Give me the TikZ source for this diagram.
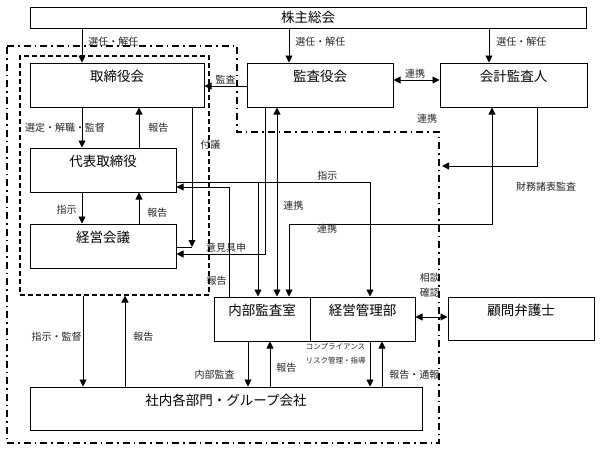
\documentclass[tikz,border=0pt]{standalone}
\usepackage{fontspec}
\setmainfont{Noto Sans CJK JP}
\usetikzlibrary{arrows.meta}

\begin{document}
\begin{tikzpicture}[x=1pt,y=-1pt,
  box/.style={draw, line width=1pt, inner sep=0pt, minimum height=44pt},
  title/.style={label={[font=\fontsize{13.5}{16}\selectfont, anchor=center, yshift=-14pt]north:#1}},
  lbl/.style={font=\fontsize{10}{12}\selectfont, text=black!85, inner sep=1pt},
  tiny/.style={font=\fontsize{7.5}{14}\selectfont, text=black!85, inner sep=1pt, align=center},
  conn/.style={line width=0.9pt},
  arr/.style={conn, -{Triangle[length=7pt,width=7pt]}},
  dbl/.style={conn, {Triangle[length=7pt,width=7pt]}-{Triangle[length=7pt,width=7pt]}},
  dashdot/.style={line width=1.6pt, dash pattern=on 7pt off 4pt on 1.5pt off 4pt},
  dashbox/.style={draw, line width=1.2pt, dash pattern=on 5pt off 3pt, inner sep=0pt}]
\useasboundingbox (0,0) rectangle (600,450);

% boxes
\node[box, minimum width=556pt, minimum height=21pt, font=\fontsize{13.5}{16}\selectfont] (kabu) at (308,17.5) {株主総会};
\node[box, minimum width=174pt, title=取締役会] (torishimari) at (117,85) {};
\node[box, minimum width=146pt, title=監査役会] (kansayaku) at (320,85) {};
\node[box, minimum width=147pt, title=会計監査人] (kaikei) at (513.5,85) {};
\node[box, minimum width=146pt, title=代表取締役] (daihyo) at (103,170) {};
\node[box, minimum width=146pt, title=経営会議] (keieikaigi) at (103,246) {};
\node[box, minimum width=96pt, title=内部監査室] (naibu) at (262,319) {};
\node[box, minimum width=105pt, title=経営管理部] (kanri) at (362.5,319) {};
\node[box, minimum width=146pt, minimum height=43pt, title=顧問弁護士] (bengoshi) at (521,318.5) {};
\node[box, minimum width=392pt, minimum height=43pt, title=社内各部門・グループ会社] (shanai) at (226,408.5) {};
\node[dashbox, minimum width=189pt, minimum height=239pt] (shikko) at (114.5,175.5) {};

% outer frame
\draw[dashdot] (7,46) -- (237,46) -- (237,132) -- (439,132) -- (439,443) -- (7,443) -- cycle;

\coordinate (fugi) at (192,247);
\coordinate (shiji) at (258,182);
\coordinate (zaimu) at (442,166);

% shareholders
\draw[arr] (82,0 |- kabu.south) -- node[lbl, right=5pt, pos=0.4] {選任・解任} (82,0 |- torishimari.north);
\draw[arr] (289,0 |- kabu.south) -- node[lbl, right=5pt, pos=0.4] {選任・解任} (289,0 |- kansayaku.north);
\draw[arr] (489,0 |- kabu.south) -- node[lbl, right=6pt, pos=0.4] {選任・解任} (489,0 |- kaikei.north);

% auditors
\draw[arr] (kansayaku.west |- 0,86) -- node[lbl, above=0pt, pos=0.5] {監査} (torishimari.east |- 0,86);
\draw[dbl] (kansayaku.east |- 0,80) -- node[lbl, above=0pt, pos=0.47] {連携} (kaikei.west |- 0,80);

% board and representative
\draw[arr] (82,0 |- torishimari.south) -- node[lbl, pos=0.51, xshift=-17pt] {選定・解職・監督} (82,0 |- daihyo.north);
\draw[arr] (139,0 |- daihyo.north) -- node[lbl, right=8pt, pos=0.49] {報告} (139,0 |- torishimari.south);
\draw[arr] (82,0 |- daihyo.south) -- node[lbl, left=4pt, pos=0.56] {指示} (82,0 |- keieikaigi.north);
\draw[arr] (139,0 |- keieikaigi.north) -- node[lbl, right=7pt, pos=0.34] {報告} (139,0 |- daihyo.south);
\draw[arr] (192,0 |- torishimari.south) -- node[lbl, right=7pt, pos=0.27] {付議} (fugi);
\draw[conn] (fugi) -- (keieikaigi.east |- fugi);
\draw[arr] (265,0 |- kansayaku.south) |- node[lbl, above=0pt, pos=0.72] {意見具申} (keieikaigi.east |- 0,254);
\draw[dbl] (277,0 |- kansayaku.south) -- node[lbl, right=5pt, pos=0.52] {連携} (277,0 |- naibu.north);
\draw[arr] (daihyo.east |- shiji) -| node[lbl, above=0pt, pos=0.39] {指示} (370,0 |- kanri.north);
\draw[arr] (shiji) -- (shiji |- naibu.north);
\draw[arr] (229,0 |- naibu.north) |- node[lbl, left=1pt, pos=0.07] {報告} (daihyo.east |- 0,187);
\draw[dbl] (289,0 |- naibu.north) -- (289,224) -| node[lbl, pos=0.094, yshift=-5pt] {連携} (492,0 |- kaikei.south);
\draw[arr] (537,0 |- kaikei.south) |- node[lbl, pos=0.5, xshift=9pt, yshift=-21pt] {財務諸表監査} (zaimu);
\node[lbl] (renkei) at (427,119) {連携};

% departments
\draw[arr] (248,0 |- naibu.south) -- node[lbl, left=12pt, pos=0.74] {内部監査} (248,0 |- shanai.north);
\draw[arr] (270,0 |- shanai.north) -- node[lbl, right=5pt, pos=0.41] {報告} (270,0 |- naibu.south);
\draw[arr] (370,0 |- kanri.south) -- node[tiny, left=3pt, pos=0.28] {コンプライアンス\\リスク管理・指導} (370,0 |- shanai.north);
\draw[arr] (382,0 |- shanai.north) -- node[lbl, right=6pt, pos=0.26] {報告・通報} (382,0 |- kanri.south);
\draw[dbl] (kanri.east |- 0,317) -- node[lbl, font=\fontsize{10}{15}\selectfont, align=center, above=18pt, pos=0.45] {相談\\確認} (bengoshi.west |- 0,317);
\draw[arr] (83,0 |- shikko.south) -- node[lbl, left=0pt, pos=0.45] {指示・監督} (83,0 |- shanai.north);
\draw[arr] (125,0 |- shanai.north) -- node[lbl, right=7pt, pos=0.55] {報告} (125,0 |- shikko.south);
\end{tikzpicture}
\end{document}
